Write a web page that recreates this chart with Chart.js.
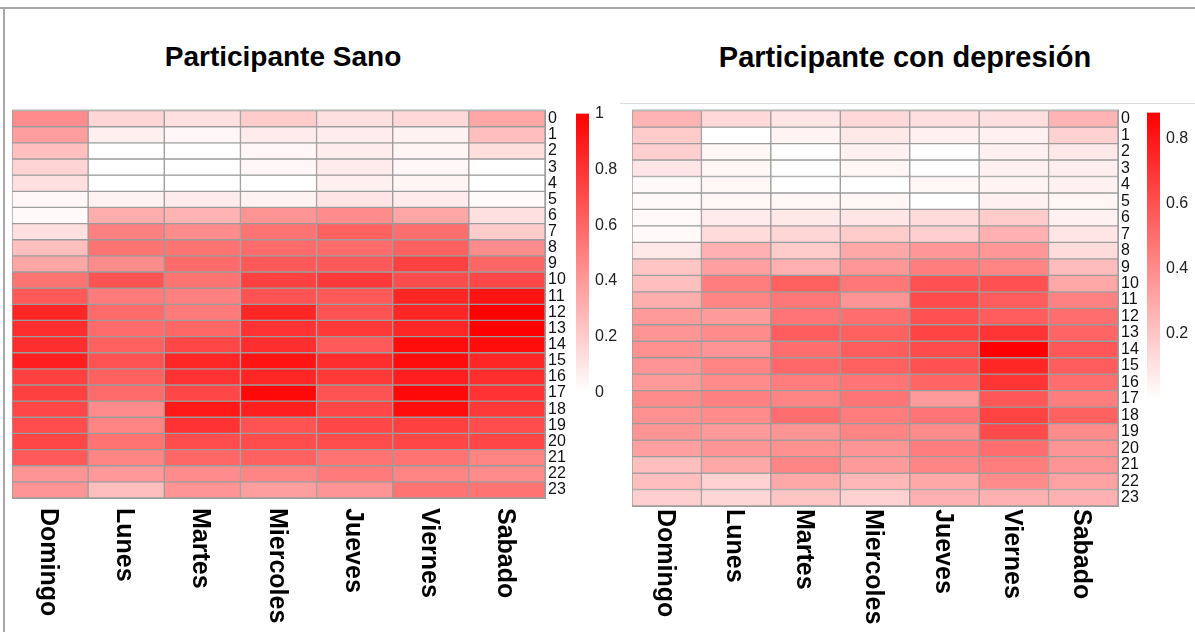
<!DOCTYPE html>
<html>
<head>
<meta charset="utf-8">
<title>Actividad por hora y día</title>
<script src="https://cdn.jsdelivr.net/npm/chart.js@4.4.1/dist/chart.umd.min.js"></script>
<style>
  html, body { margin: 0; padding: 0; background: #fff; }
  body {
    width: 1195px; height: 632px; position: relative; overflow: hidden;
    font-family: "Liberation Sans", Arial, sans-serif;
  }
  canvas { position: absolute; }
  .title {
    position: absolute; top: 38px; width: 440px; text-align: center;
    font-weight: bold; font-size: 28px; line-height: 38px; color: #000; white-space: nowrap;
  }
  .rule { position: absolute; background: #a9a9a9; }
</style>
</head>
<body>
<div class="rule" style="left:0; top:7px; width:1195px; height:2px;"></div>
<div class="rule" style="left:3px; top:7px; width:2px; height:625px;"></div>
<div class="rule" style="left:620px; top:103px; width:575px; height:1px; background:#dcdcdc;"></div>

<div class="title" style="left:63px;">Participante Sano</div>
<div class="title" style="left:685px; font-size:29px;">Participante con depresión</div>

<canvas id="sanoChart" width="560" height="534" style="left:12px; top:98px;"></canvas>
<canvas id="sanoScale" width="60" height="310" style="left:576px; top:98px;"></canvas>
<canvas id="depChart" width="513" height="534" style="left:632px; top:98px;"></canvas>
<canvas id="depScale" width="48" height="320" style="left:1147px; top:97px;"></canvas>

<script>
(function () {
  "use strict";

  var DAYS = ["Domingo", "Lunes", "Martes", "Miercoles", "Jueves", "Viernes", "Sabado"];
  var HOURS = [0, 1, 2, 3, 4, 5, 6, 7, 8, 9, 10, 11, 12, 13, 14, 15, 16, 17, 18, 19, 20, 21, 22, 23];

  // one row per hour, one value per day (Domingo .. Sabado)
  var SANO = [
    [0.45, 0.16, 0.12, 0.20, 0.12, 0.15, 0.35],
    [0.38, 0.06, 0.03, 0.08, 0.07, 0.05, 0.25],
    [0.25, 0.00, 0.00, 0.03, 0.07, 0.04, 0.13],
    [0.17, 0.00, 0.00, 0.03, 0.08, 0.03, 0.00],
    [0.12, 0.00, 0.00, 0.00, 0.06, 0.04, 0.00],
    [0.03, 0.05, 0.08, 0.05, 0.10, 0.08, 0.02],
    [0.02, 0.32, 0.30, 0.42, 0.45, 0.35, 0.12],
    [0.12, 0.50, 0.45, 0.55, 0.62, 0.57, 0.20],
    [0.25, 0.55, 0.55, 0.58, 0.58, 0.62, 0.45],
    [0.35, 0.45, 0.58, 0.65, 0.65, 0.75, 0.60],
    [0.55, 0.68, 0.55, 0.75, 0.78, 0.70, 0.72],
    [0.65, 0.52, 0.50, 0.68, 0.65, 0.85, 0.92],
    [0.85, 0.58, 0.52, 0.85, 0.68, 0.85, 1.00],
    [0.82, 0.58, 0.60, 0.80, 0.78, 0.85, 1.00],
    [0.82, 0.62, 0.72, 0.82, 0.65, 0.95, 0.95],
    [0.88, 0.68, 0.85, 0.92, 0.82, 0.95, 0.85],
    [0.75, 0.62, 0.80, 0.85, 0.78, 0.88, 0.82],
    [0.75, 0.58, 0.72, 0.97, 0.68, 0.97, 0.80],
    [0.72, 0.45, 0.90, 0.88, 0.72, 0.95, 0.78],
    [0.70, 0.48, 0.80, 0.68, 0.72, 0.75, 0.70],
    [0.72, 0.55, 0.70, 0.70, 0.70, 0.72, 0.72],
    [0.65, 0.48, 0.60, 0.62, 0.55, 0.55, 0.48],
    [0.42, 0.40, 0.45, 0.48, 0.52, 0.48, 0.45],
    [0.42, 0.25, 0.42, 0.38, 0.42, 0.55, 0.55]
  ];

  var DEPRESION = [
    [0.26, 0.13, 0.09, 0.13, 0.11, 0.11, 0.26],
    [0.18, 0.00, 0.04, 0.08, 0.05, 0.05, 0.16],
    [0.17, 0.03, 0.00, 0.05, 0.00, 0.05, 0.08],
    [0.09, 0.03, 0.00, 0.03, 0.00, 0.05, 0.06],
    [0.02, 0.03, 0.00, 0.00, 0.03, 0.04, 0.05],
    [0.02, 0.03, 0.03, 0.03, 0.00, 0.05, 0.03],
    [0.02, 0.07, 0.08, 0.09, 0.12, 0.18, 0.05],
    [0.02, 0.12, 0.14, 0.18, 0.17, 0.27, 0.09],
    [0.08, 0.27, 0.18, 0.30, 0.36, 0.36, 0.12],
    [0.20, 0.33, 0.27, 0.36, 0.45, 0.42, 0.23],
    [0.22, 0.45, 0.55, 0.47, 0.60, 0.60, 0.30],
    [0.28, 0.42, 0.47, 0.37, 0.62, 0.56, 0.43],
    [0.35, 0.35, 0.48, 0.50, 0.60, 0.56, 0.50],
    [0.37, 0.40, 0.56, 0.55, 0.65, 0.70, 0.53],
    [0.38, 0.37, 0.50, 0.56, 0.62, 0.88, 0.58],
    [0.37, 0.42, 0.52, 0.55, 0.60, 0.75, 0.56],
    [0.35, 0.40, 0.45, 0.48, 0.53, 0.70, 0.50],
    [0.40, 0.44, 0.42, 0.48, 0.35, 0.58, 0.45],
    [0.38, 0.40, 0.50, 0.45, 0.48, 0.65, 0.55],
    [0.37, 0.35, 0.37, 0.42, 0.40, 0.62, 0.40],
    [0.33, 0.37, 0.38, 0.37, 0.45, 0.50, 0.37],
    [0.22, 0.30, 0.42, 0.35, 0.42, 0.45, 0.37],
    [0.22, 0.16, 0.30, 0.25, 0.30, 0.40, 0.32],
    [0.17, 0.14, 0.20, 0.16, 0.27, 0.27, 0.27]
  ];

  var SANO_MAX = 1;
  var DEPRESION_MAX = 0.88;
  var SANO_TICKS = [0, 0.2, 0.4, 0.6, 0.8, 1];
  var DEPRESION_TICKS = [0.2, 0.4, 0.6, 0.8];

  var FONT = "'Liberation Sans', Arial, sans-serif";

  if (typeof Chart === "undefined") {
    console.error("Chart.js did not load.");
    return;
  }

  // white -> pure red
  function cellColor(v, max) {
    var g = Math.round(255 * (1 - Math.min(v / max, 1)));
    return "rgb(255," + g + "," + g + ")";
  }

  // vertical day names under each column, read top to bottom
  var dayLabels = {
    id: "dayLabels",
    afterDraw: function (chart, args, opts) {
      var ctx = chart.ctx;
      var xs = chart.scales.x;
      var top = chart.chartArea.bottom + opts.gap;
      ctx.save();
      ctx.font = "bold 25px " + FONT;
      ctx.fillStyle = "#000";
      ctx.textAlign = "left";
      ctx.textBaseline = "middle";
      chart.data.labels.forEach(function (label, i) {
        ctx.save();
        ctx.translate(xs.getPixelForValue(i) - 2, top);
        ctx.rotate(Math.PI / 2);
        ctx.fillText(label, 0, 0);
        ctx.restore();
      });
      ctx.restore();
    }
  };

  var gridFrame = {
    id: "gridFrame",
    afterDatasetsDraw: function (chart) {
      var a = chart.chartArea;
      var ctx = chart.ctx;
      ctx.save();
      ctx.strokeStyle = "#9c9c9c";
      ctx.lineWidth = 1;
      ctx.strokeRect(a.left - 0.5, a.top - 0.5, a.right - a.left + 1, a.bottom - a.top + 1);
      ctx.restore();
    }
  };

  function makeHeatmap(canvasId, rows, max, padBottom, gap) {
    var canvas = document.getElementById(canvasId);
    var datasets = HOURS.map(function (h, r) {
      return {
        data: DAYS.map(function () { return [h, h + 1]; }),
        backgroundColor: rows[r].map(function (v) { return cellColor(v, max); }),
        borderColor: "#9c9c9c",
        borderWidth: 1,
        borderSkipped: false,
        grouped: false,
        barPercentage: 1,
        categoryPercentage: 1
      };
    });

    return new Chart(canvas.getContext("2d"), {
      type: "bar",
      data: { labels: DAYS, datasets: datasets },
      plugins: [dayLabels, gridFrame],
      options: {
        responsive: false,
        devicePixelRatio: 1,
        animation: false,
        events: [],
        layout: { padding: { top: 12, bottom: padBottom, left: 0, right: 0 } },
        plugins: {
          legend: { display: false },
          tooltip: { enabled: false },
          dayLabels: { gap: gap }
        },
        scales: {
          x: { type: "category", display: false },
          y: { type: "linear", min: 0, max: 24, reverse: true, display: false },
          hourAxis: {
            type: "category",
            position: "right",
            labels: HOURS.map(String),
            offset: true,
            grid: { display: false, drawTicks: false },
            border: { display: false },
            ticks: { autoSkip: false, padding: 3, color: "#111", font: { family: FONT, size: 16 } },
            afterFit: function (scale) { scale.width = 27; }
          }
        }
      }
    });
  }

  function makeColorbar(canvasId, max, ticks, padBottom, axisWidth) {
    var canvas = document.getElementById(canvasId);
    return new Chart(canvas.getContext("2d"), {
      type: "bar",
      data: {
        labels: [""],
        datasets: [{
          data: [max],
          borderWidth: 0,
          barPercentage: 1,
          categoryPercentage: 1,
          backgroundColor: function (c) {
            var chart = c.chart;
            var ys = chart.scales.y;
            if (!chart.chartArea || !ys) return "#ff0000";
            var grad = chart.ctx.createLinearGradient(0, ys.getPixelForValue(0), 0, ys.getPixelForValue(max));
            grad.addColorStop(0, "#ffffff");
            grad.addColorStop(1, "#ff0000");
            return grad;
          }
        }]
      },
      options: {
        responsive: false,
        devicePixelRatio: 1,
        animation: false,
        events: [],
        layout: { padding: { top: 12, bottom: padBottom, left: 0, right: 0 } },
        plugins: { legend: { display: false }, tooltip: { enabled: false } },
        scales: {
          x: { display: false },
          y: {
            position: "right",
            min: 0,
            max: max,
            grid: { display: false, drawTicks: false },
            border: { display: false },
            afterBuildTicks: function (scale) {
              scale.ticks = ticks.map(function (v) { return { value: v }; });
            },
            afterFit: function (scale) { scale.width = axisWidth; },
            ticks: {
              padding: 6,
              color: "#222",
              font: { family: FONT, size: 16 },
              callback: function (v) { return String(v); }
            }
          }
        }
      }
    });
  }

  makeHeatmap("sanoChart", SANO, SANO_MAX, 134, 10);
  makeHeatmap("depChart", DEPRESION, DEPRESION_MAX, 126, 3);
  makeColorbar("sanoScale", SANO_MAX, SANO_TICKS, 15, 47);
  makeColorbar("depScale", DEPRESION_MAX, DEPRESION_TICKS, 18.5, 35);
})();
</script>
</body>
</html>
